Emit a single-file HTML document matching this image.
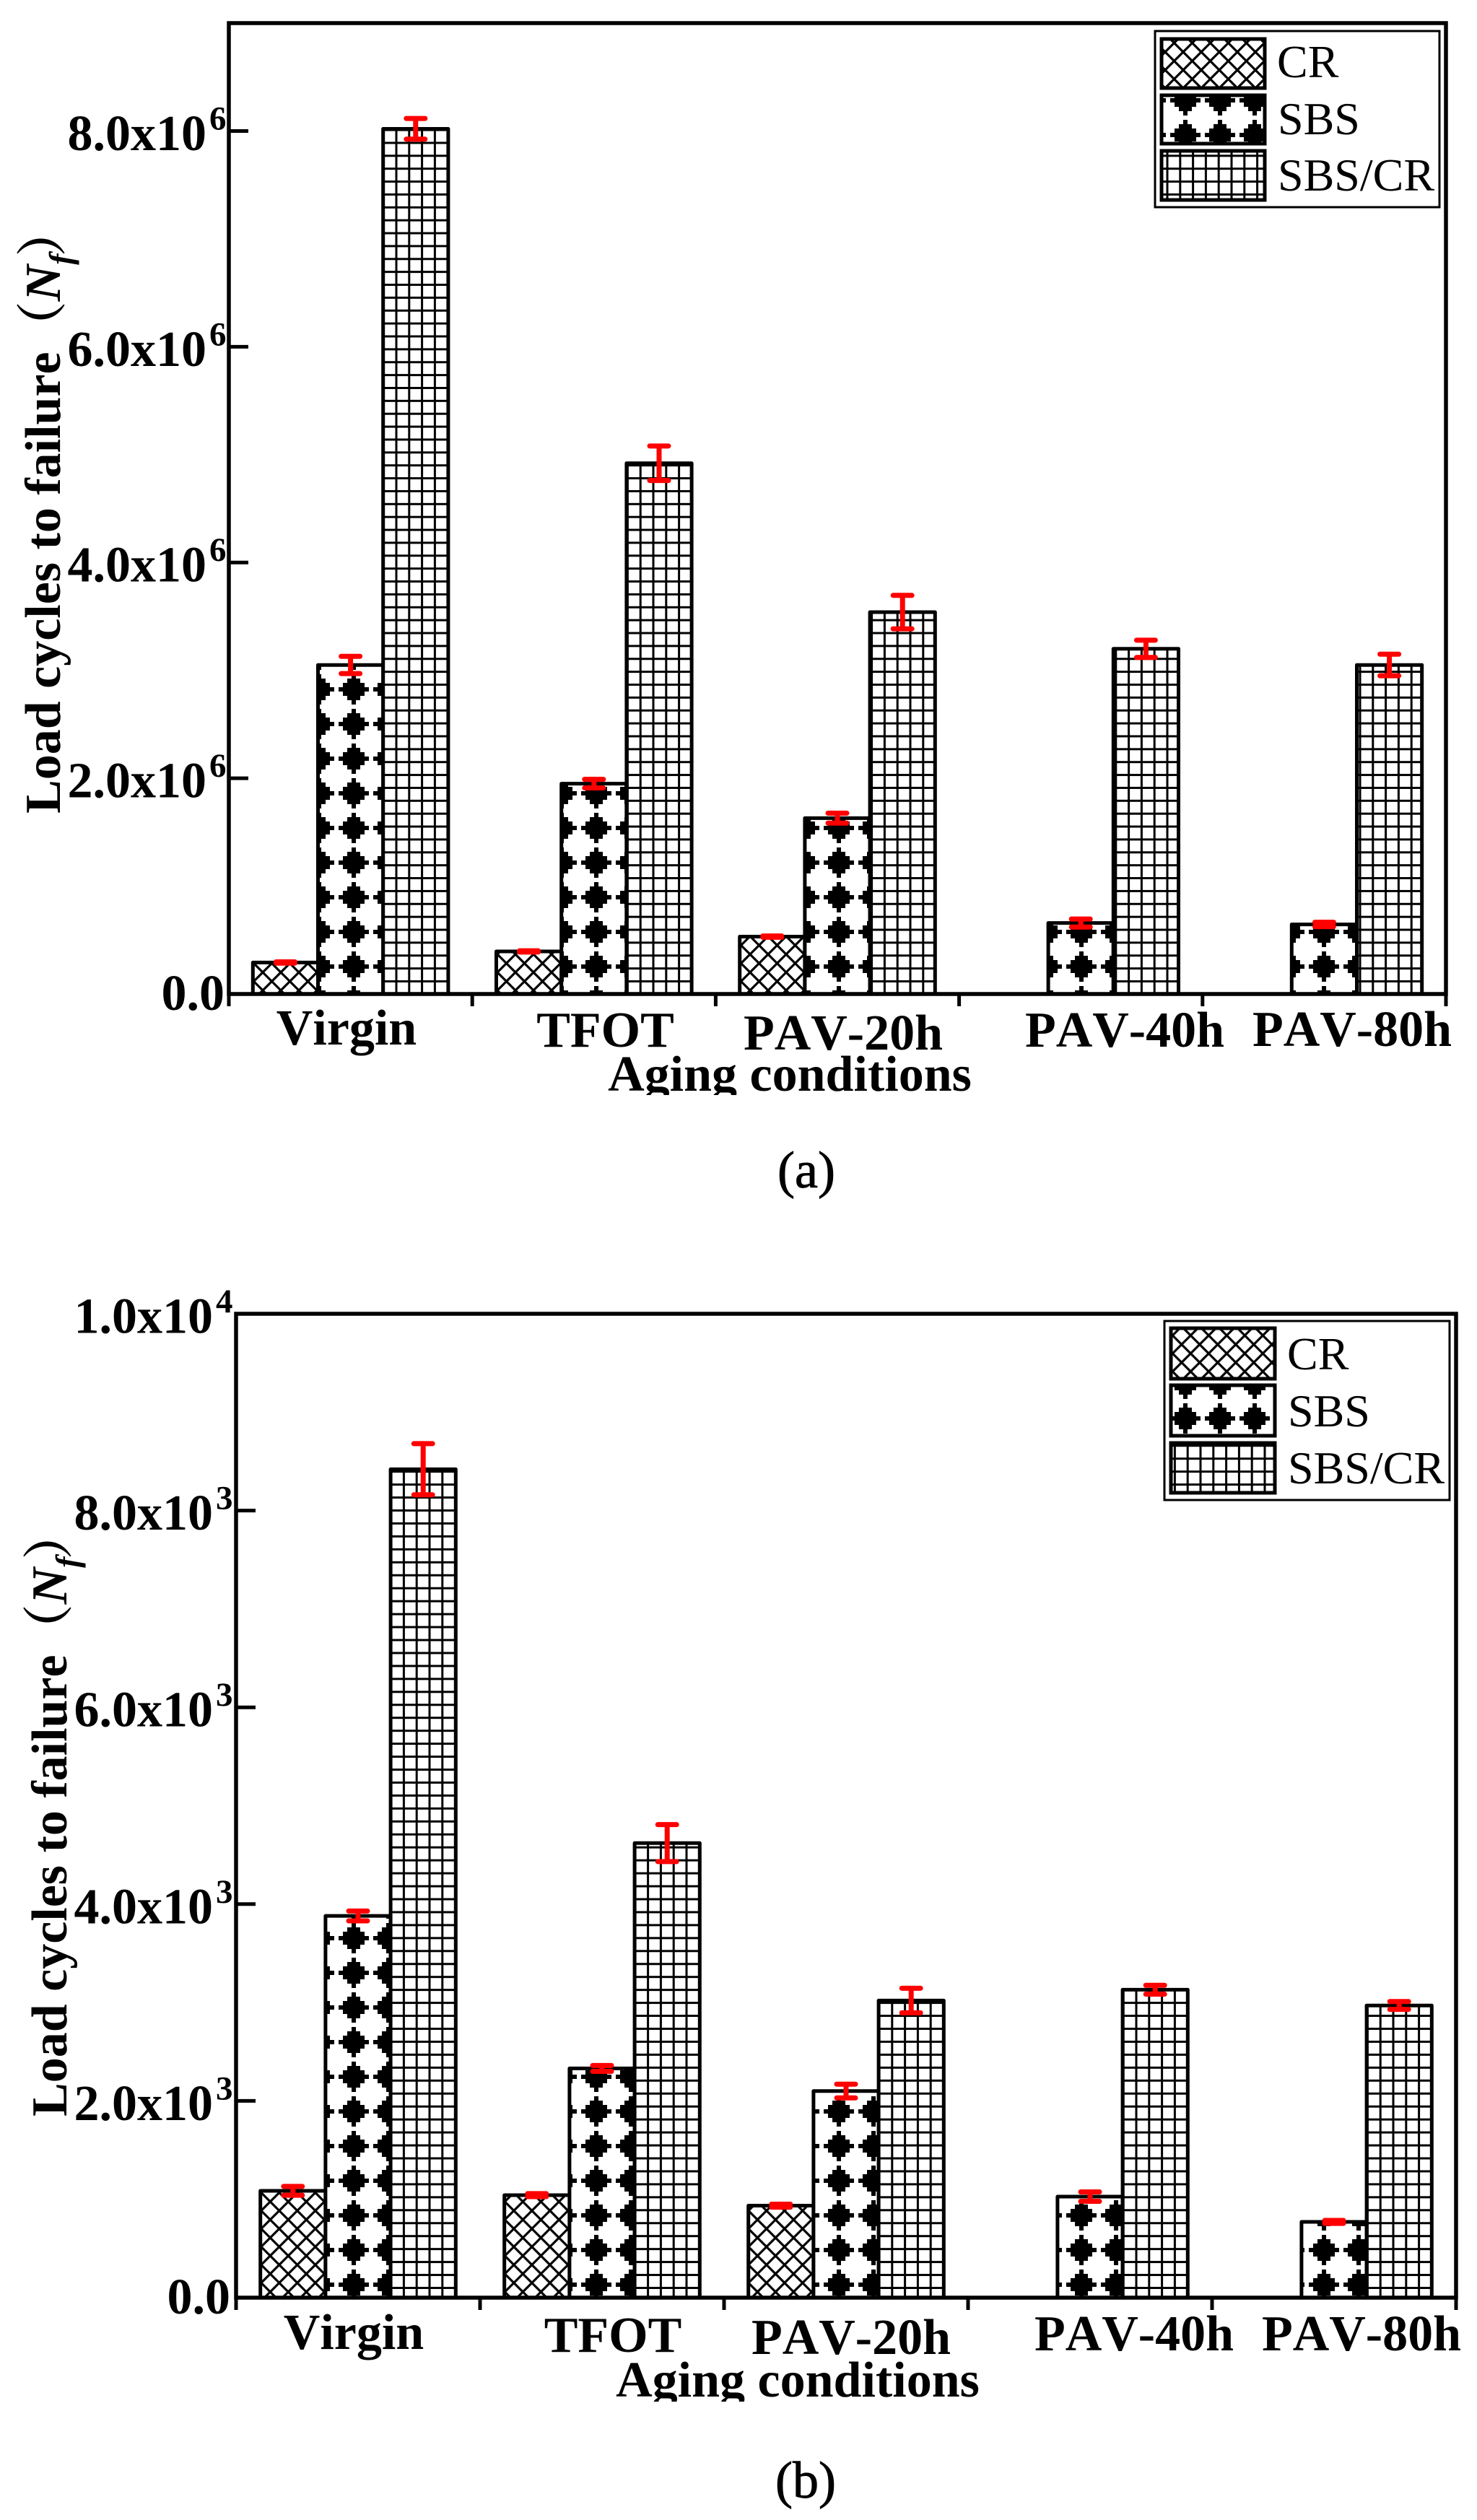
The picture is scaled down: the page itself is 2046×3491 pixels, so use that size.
<!DOCTYPE html>
<html lang="en">
<head>
<meta charset="utf-8">
<title>Load cycles to failure by aging condition</title>
<style>
  html, body { margin: 0; padding: 0; background: #fff; }
  svg { display: block; }
  text { font-family: "Liberation Serif", "Noto Serif CJK SC", serif; fill: #000; font-kerning: none; }
  .bold { font-weight: bold; }
  .caption { stroke: #000; stroke-width: 0.9px; }
</style>
</head>
<body>
<svg id="figure" xmlns="http://www.w3.org/2000/svg" width="2046" height="3491" viewBox="0 0 2046 3491">
  <rect x="0" y="0" width="2046" height="3491" fill="#fff"/>
  <defs>
    <pattern id="cr-a" patternUnits="userSpaceOnUse" x="389" y="1347" width="25" height="25">
      <rect width="25" height="25" fill="#fff"/>
      <path d="M-5,-5L30,30M30,-5L-5,30" stroke="#000" stroke-width="3.2" fill="none"/>
    </pattern>
    <pattern id="cr-b" patternUnits="userSpaceOnUse" x="399.3" y="3050" width="25" height="25">
      <rect width="25" height="25" fill="#fff"/>
      <path d="M-5,-5L30,30M30,-5L-5,30" stroke="#000" stroke-width="3.2" fill="none"/>
    </pattern>
    <pattern id="sbs-a" patternUnits="userSpaceOnUse" x="466" y="1315" width="48" height="48">
      <rect width="48" height="48" fill="#fff"/>
      <path d="M21,3H27V9H33V15H39V21H45V27H39V33H33V39H27V45H21V39H15V33H9V27H3V21H9V15H15V9H21Z" fill="#000"/>
    </pattern>
    <pattern id="sbs-b" patternUnits="userSpaceOnUse" x="466" y="3141" width="48" height="48">
      <rect width="48" height="48" fill="#fff"/>
      <path d="M21,3H27V9H33V15H39V21H45V27H39V33H33V39H27V45H21V39H15V33H9V27H3V21H9V15H15V9H21Z" fill="#000"/>
    </pattern>
    <pattern id="grid-a" patternUnits="userSpaceOnUse" x="540.1" y="1350.565" width="17.8" height="17.87">
      <rect width="17.8" height="17.87" fill="#fff"/>
      <path d="M8.9,0V17.87M0,8.935H17.8" stroke="#000" stroke-width="3" fill="none"/>
    </pattern>
    <pattern id="grid-b" patternUnits="userSpaceOnUse" x="550.5" y="3160.525" width="17.8" height="17.95">
      <rect width="17.8" height="17.95" fill="#fff"/>
      <path d="M8.9,0V17.95M0,8.975H17.8" stroke="#000" stroke-width="3" fill="none"/>
    </pattern>
    <clipPath id="clip-xtitle-a"><rect x="700" y="1440" width="800" height="77"/></clipPath>
    <clipPath id="clip-xtitle-b"><rect x="700" y="3250" width="800" height="77"/></clipPath>
  </defs>

  <g id="panel-a"></g>
  <g id="panel-b"></g>

  <!-- Panel (a) hand-placed labels -->
  <text class="bold" font-size="70" text-anchor="middle" x="480" y="1447">Virgin</text>
  <text class="bold" font-size="70" text-anchor="middle" x="838.5" y="1450">TFOT</text>
  <text class="bold" font-size="70" text-anchor="middle" x="1168" y="1454">PAV-20h</text>
  <text class="bold" font-size="70" text-anchor="middle" x="1558" y="1450">PAV-40h</text>
  <text class="bold" font-size="70" text-anchor="middle" x="1873" y="1449">PAV-80h</text>
  <text class="bold" font-size="70" text-anchor="middle" x="1094" y="1511" clip-path="url(#clip-xtitle-a)">Aging conditions</text>
  <text class="bold" font-size="70" x="83" y="1127" transform="rotate(-90 83 1127)">Load cycles to failure（<tspan font-style="italic">N</tspan><tspan font-style="italic" font-size="46" dy="17">f</tspan><tspan dy="-17" dx="-4">）</tspan></text>
  <text class="caption" font-size="72" text-anchor="middle" x="1117" y="1645">(a)</text>

  <!-- Panel (b) hand-placed labels -->
  <text class="bold" font-size="70" text-anchor="middle" x="490" y="3254">Virgin</text>
  <text class="bold" font-size="70" text-anchor="middle" x="849" y="3258">TFOT</text>
  <text class="bold" font-size="70" text-anchor="middle" x="1179" y="3261">PAV-20h</text>
  <text class="bold" font-size="70" text-anchor="middle" x="1571" y="3256">PAV-40h</text>
  <text class="bold" font-size="70" text-anchor="middle" x="1886" y="3256">PAV-80h</text>
  <text class="bold" font-size="70" text-anchor="middle" x="1105" y="3320" clip-path="url(#clip-xtitle-b)">Aging conditions</text>
  <text class="bold" font-size="70" x="92" y="2932" transform="rotate(-90 92 2932)">Load cycles to failure（<tspan font-style="italic">N</tspan><tspan font-style="italic" font-size="46" dy="17">f</tspan><tspan dy="-17" dx="-4">）</tspan></text>
  <text class="caption" font-size="72" text-anchor="middle" x="1116" y="3460">(b)</text>

  <!-- Legend (a) -->
  <g>
    <rect x="1600" y="43" width="394" height="244" fill="#fff" stroke="#000" stroke-width="3"/>
    <rect x="1609" y="54" width="143" height="68" fill="url(#cr-a)" stroke="#000" stroke-width="5"/>
    <rect x="1609" y="132" width="143" height="67" fill="url(#sbs-a)" stroke="#000" stroke-width="5"/>
    <rect x="1609" y="209" width="143" height="68" fill="url(#grid-a)" stroke="#000" stroke-width="5"/>
    <text font-size="64" x="1769" y="107">CR</text>
    <text font-size="64" x="1770" y="186">SBS</text>
    <text font-size="64" x="1770" y="264">SBS/CR</text>
  </g>

  <!-- Legend (b) -->
  <g>
    <rect x="1613" y="1830" width="395" height="248" fill="#fff" stroke="#000" stroke-width="3"/>
    <rect x="1622" y="1840" width="144" height="70" fill="url(#cr-b)" stroke="#000" stroke-width="5"/>
    <rect x="1622" y="1919" width="144" height="70" fill="url(#sbs-b)" stroke="#000" stroke-width="5"/>
    <rect x="1622" y="1999" width="144" height="69" fill="url(#grid-b)" stroke="#000" stroke-width="5"/>
    <text font-size="64" x="1783" y="1897">CR</text>
    <text font-size="64" x="1784" y="1976">SBS</text>
    <text font-size="64" x="1784" y="2055">SBS/CR</text>
  </g>
</svg>

<script>
// ---- data: panel (a) ----
const categories = ['Virgin', 'TFOT', 'PAV-20h', 'PAV-40h', 'PAV-80h'];
const crValuesA = [0.292e6, 0.395e6, 0.532e6, null, null];
const crErrorsA = [0.006e6, 0.006e6, 0.006e6, null, null];
const sbsValuesA = [3.05e6, 1.95e6, 1.63e6, 0.658e6, 0.645e6];
const sbsErrorsA = [0.08e6, 0.04e6, 0.046e6, 0.037e6, 0.02e6];
const blendValuesA = [8.02e6, 4.92e6, 3.54e6, 3.2e6, 3.05e6];
const blendErrorsA = [0.096e6, 0.16e6, 0.155e6, 0.08e6, 0.1e6];
const yTicksA = [0, 2e6, 4e6, 6e6, 8e6];
const yTickLabelsA = ['0.0', '2.0x10', '4.0x10', '6.0x10', '8.0x10'];
const yTickExponentsA = ['', '6', '6', '6', '6'];

// ---- data: panel (b) ----
const crValuesB = [1086, 1042, 935, null, null];
const crErrorsB = [45, 15, 15, null, null];
const sbsValuesB = [3880, 2330, 2100, 1027, 770];
const sbsErrorsB = [50, 30, 70, 48, 15];
const blendValuesB = [8420, 4620, 3020, 3130, 2970];
const blendErrorsB = [260, 188, 125, 45, 40];
const yTicksB = [0, 2000, 4000, 6000, 8000, 10000];
const yTickLabelsB = ['0.0', '2.0x10', '4.0x10', '6.0x10', '8.0x10', '1.0x10'];
const yTickExponentsB = ['', '3', '3', '3', '3', '4'];

const SVGNS = 'http://www.w3.org/2000/svg';

function make(tag, attrs, parent, content) {
  const node = document.createElementNS(SVGNS, tag);
  for (const key in attrs) node.setAttribute(key, attrs[key]);
  if (content !== undefined) node.textContent = content;
  parent.appendChild(node);
  return node;
}

function drawPanel(p) {
  const root = document.getElementById(p.id);
  const yOf = function (v) { return p.zero - (v / p.yMax) * (p.zero - p.top); };
  const step = (p.right - p.left) / p.categories.length;
  const xOf = function (i) { return p.left + (i + 0.5) * step; };
  const barWidth = 90.2;

  p.series.forEach(function (s, si) {
    s.values.forEach(function (v, i) {
      if (v === null) return;
      const bx = xOf(i) - 1.5 * barWidth + si * barWidth;
      const bar = make('rect', {
        x: bx, y: yOf(v), width: barWidth, height: p.zero - yOf(v),
        fill: 'url(#' + s.pattern + ')', stroke: '#000', 'stroke-width': 5, 'stroke-linejoin': 'round'
      }, root);
      
      
    });
  });

  p.series.forEach(function (s, si) {
    s.values.forEach(function (v, i) {
      if (v === null) return;
      const cx = xOf(i) - 1.5 * barWidth + si * barWidth + barWidth / 2;
      const hi = yOf(v + s.errors[i]);
      const lo = yOf(v - s.errors[i]);
      const group = make('g', { stroke: '#f00', 'stroke-width': 7, 'stroke-linecap': 'round' }, root);
      
      
      const stem = make('line', { x1: cx, x2: cx, y1: hi, y2: lo, 'stroke-linecap': 'butt' }, group);
      
      
      const capTop = make('line', { x1: cx - 13, x2: cx + 13, y1: hi, y2: hi }, group);
      
      
      const capBottom = make('line', { x1: cx - 13, x2: cx + 13, y1: lo, y2: lo }, group);
      
      
    });
  });

  const frame = make('rect', {
    x: p.left, y: p.top, width: p.right - p.left, height: p.zero - p.top,
    fill: 'none', stroke: '#000', 'stroke-width': 5.5
  }, root);
  
  

  for (let i = 0; i <= p.categories.length; i++) {
    const tx = p.left + i * step;
    const xTick = make('line', {
      x1: tx, x2: tx, y1: p.zero, y2: p.zero + 17, stroke: '#000', 'stroke-width': 5
    }, root);
    
    
  }

  p.ticks.forEach(function (t, i) {
    const ty = yOf(t);
    const yTick = make('line', {
      x1: p.left, x2: p.left + 27, y1: ty, y2: ty, stroke: '#000', 'stroke-width': 5
    }, root);
    
    

    const hasExp = p.tickExponents[i] !== '';
    const label = make('text', {
      x: hasExp ? p.left - p.labelInset : p.left - p.zeroInset,
      y: hasExp ? ty + 26.5 : ty + 22,
      'text-anchor': 'end', 'font-size': 70, 'font-weight': 'bold'
    }, root, p.tickLabels[i]);
    
    

    if (hasExp) {
      const sup = make('text', {
        x: p.left - p.labelInset + 4, y: ty - 2,
        'font-size': 47, 'font-weight': 'bold'
      }, root, p.tickExponents[i]);
      
      
    }
  });
}

drawPanel({
  id: 'panel-a', suffix: 'a', left: 317, right: 2003, top: 32, zero: 1377, yMax: 9e6,
  labelInset: 31, zeroInset: 6,
  categories: categories, ticks: yTicksA, tickLabels: yTickLabelsA, tickExponents: yTickExponentsA,
  series: [
    { key: 'cr', pattern: 'cr-a', values: crValuesA, errors: crErrorsA },
    { key: 'sbs', pattern: 'sbs-a', values: sbsValuesA, errors: sbsErrorsA },
    { key: 'sbs-cr', pattern: 'grid-a', values: blendValuesA, errors: blendErrorsA }
  ]
});

drawPanel({
  id: 'panel-b', suffix: 'b', left: 327, right: 2017, top: 1820, zero: 3183, yMax: 10000,
  labelInset: 32, zeroInset: 8,
  categories: categories, ticks: yTicksB, tickLabels: yTickLabelsB, tickExponents: yTickExponentsB,
  series: [
    { key: 'cr', pattern: 'cr-b', values: crValuesB, errors: crErrorsB },
    { key: 'sbs', pattern: 'sbs-b', values: sbsValuesB, errors: sbsErrorsB },
    { key: 'sbs-cr', pattern: 'grid-b', values: blendValuesB, errors: blendErrorsB }
  ]
});
</script>
</body>
</html>
